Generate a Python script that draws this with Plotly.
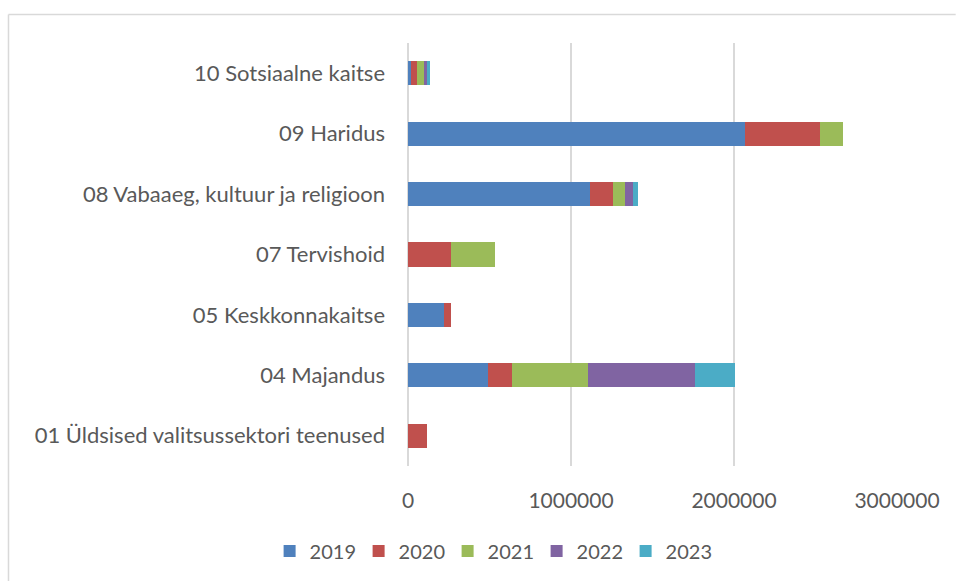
import plotly.graph_objects as go

categories = [
    "10 Sotsiaalne kaitse",
    "09 Haridus",
    "08 Vabaaeg, kultuur ja religioon",
    "07 Tervishoid",
    "05 Keskkonnakaitse",
    "04 Majandus",
    "01 Üldsised valitsussektori teenused",
]
years = ["2019", "2020", "2021", "2022", "2023"]
v2019 = [16000, 2070000, 1115000, 0, 220000, 490000, 0]
v2020 = [39000, 460000, 141000, 264000, 41000, 147000, 114000]
v2021 = [43000, 141000, 78000, 272000, 0, 470000, 0]
v2022 = [18000, 0, 45000, 0, 0, 652000, 0]
v2023 = [22000, 0, 35000, 0, 0, 247000, 0]
series = [v2019, v2020, v2021, v2022, v2023]
colors = ["#4F81BD", "#C0504D", "#9BBB59", "#8064A2", "#4BACC6"]
x_ticks = [0, 1000000, 2000000, 3000000]

fig = go.Figure()
for name, vals, col in zip(years, series, colors):
    fig.add_trace(go.Bar(
        y=categories, x=vals, name=name, orientation="h",
        marker=dict(color=col, line=dict(width=0)),
    ))

font = dict(family="Lato, 'Open Sans', sans-serif", size=22, color="#595959")
frame = dict(color="#d9d9d9", width=1.5)

fig.update_layout(
    width=957, height=581,
    barmode="stack", bargap=0.6,
    paper_bgcolor="white", plot_bgcolor="white",
    margin=dict(l=408, r=60, t=43, b=114),
    font=font,
    showlegend=True,
    legend=dict(orientation="h", x=0.172, xanchor="center", y=-0.198, yanchor="middle",
                font=dict(size=20, color="#595959"), itemwidth=30, traceorder="normal",
                entrywidth=44, entrywidthmode="pixels"),
    xaxis=dict(range=[0, 3000000], tickvals=x_ticks, ticktext=[str(v) for v in x_ticks],
               tickfont=dict(size=21),
               showgrid=True, gridcolor="#d9d9d9", gridwidth=1.5, zeroline=True,
               zerolinecolor="#d9d9d9", zerolinewidth=2,
               ticks="outside", ticklen=16, tickcolor="rgba(0,0,0,0)", showline=False),
    yaxis=dict(categoryorder="array", categoryarray=categories, autorange="reversed",
               showgrid=False, ticks="", ticklabelstandoff=22, showline=False),
    shapes=[
        dict(type="line", xref="paper", yref="paper", x0=-0.817, x1=1.12, y0=1.0672, y1=1.0672,
             line=frame, layer="below"),
        dict(type="line", xref="paper", yref="paper", x0=-0.817, x1=-0.817, y0=1.0672, y1=-0.3,
             line=frame, layer="below"),
    ],
)

fig.write_html(
    "out.html",
    config={"displayModeBar": False},
    post_script="document.body.style.margin='0';document.documentElement.style.overflow='hidden';document.body.style.overflow='hidden';",
)
